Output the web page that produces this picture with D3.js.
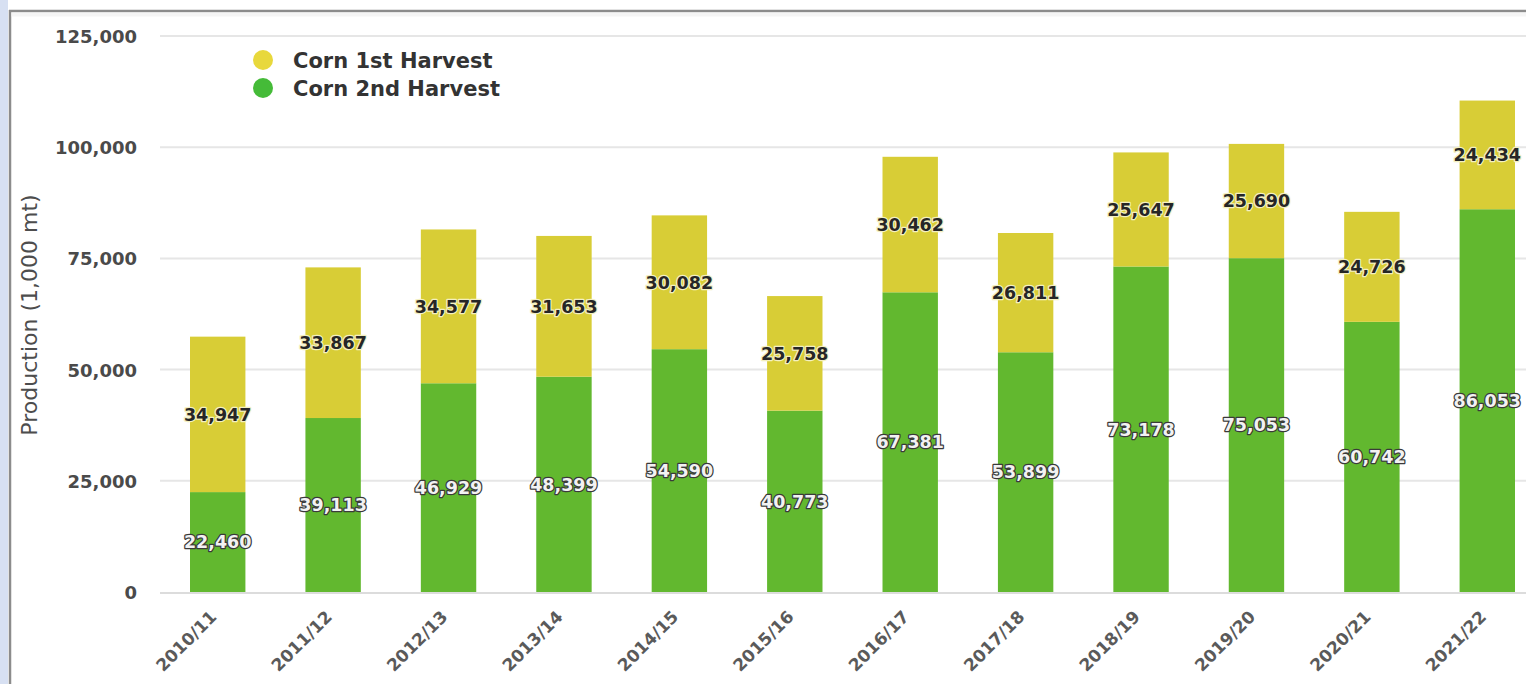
<!DOCTYPE html>
<html>
<head>
<meta charset="utf-8">
<script src="https://cdn.jsdelivr.net/npm/d3@7"></script>
<style>
  html, body { margin: 0; padding: 0; background: #fff; }
  svg { display: block; font-family: "DejaVu Sans", Verdana, sans-serif; }
</style>
</head>
<body>
<svg id="chart" width="1526" height="684"></svg>
<script>
// Marketing years
const seasons = ["2010/11", "2011/12", "2012/13", "2013/14", "2014/15", "2015/16",
                 "2016/17", "2017/18", "2018/19", "2019/20", "2020/21", "2021/22"];
// Production, 1,000 mt
const secondHarvest = [22460, 39113, 46929, 48399, 54590, 40773, 67381, 53899, 73178, 75053, 60742, 86053];
const firstHarvest  = [34947, 33867, 34577, 31653, 30082, 25758, 30462, 26811, 25647, 25690, 24726, 24434];
const yTicks = [0, 25000, 50000, 75000, 100000, 125000];
const seriesNames = ["Corn 1st Harvest", "Corn 2nd Harvest"];

const W = 1526, H = 684;
const svg = d3.select("#chart");

// window frame around the chart panel
svg.append("rect").attr("x", 0).attr("y", 0).attr("width", 8).attr("height", H).attr("fill", "#d7e0f2");
svg.append("rect").attr("x", 8).attr("y", 10).attr("width", W - 8).attr("height", H - 10).attr("fill", "#fff");
svg.append("line").attr("x1", 10).attr("x2", 10).attr("y1", 10).attr("y2", H)
  .attr("stroke", "#8c8c8c").attr("stroke-width", 2.5);
svg.append("line").attr("x1", 9).attr("x2", W).attr("y1", 11).attr("y2", 11)
  .attr("stroke", "#8c8c8c").attr("stroke-width", 2.5);
svg.append("rect").attr("x", 11).attr("y", 12.5).attr("width", W).attr("height", 4)
  .attr("fill", "#eeeeee").attr("opacity", 0.6);

const x = d3.scaleBand().domain(seasons).range([160, 1545]).paddingInner(0.52).paddingOuter(0.26);
const y = d3.scaleLinear().domain([0, 125000]).range([592, 36]);
const fmt = d3.format(",");

// grid
svg.append("g").selectAll("line").data(yTicks.filter(d => d > 0)).join("line")
  .attr("x1", 160).attr("x2", W).attr("y1", d => y(d)).attr("y2", d => y(d))
  .attr("stroke", "#e6e6e6").attr("stroke-width", 2);

// y axis labels
const yAxis = svg.append("g").attr("transform", "translate(137,0)")
  .call(d3.axisLeft(y).tickValues(yTicks).tickFormat(fmt).tickSize(0).tickPadding(0));
yAxis.select(".domain").remove();
yAxis.selectAll("text").attr("font-family", "DejaVu Sans").attr("font-size", 18).attr("font-weight", 700)
  .attr("fill", "#4a4a4a").attr("dy", "0.36em");

// baseline
svg.append("line").attr("x1", 160).attr("x2", W).attr("y1", y(0) + 1).attr("y2", y(0) + 1)
  .attr("stroke", "#dcdcdc").attr("stroke-width", 2);

// y axis title
svg.append("text").attr("transform", "translate(37,315) rotate(-90)")
  .attr("text-anchor", "middle").attr("font-size", 22)
  .attr("fill", "#4d4d4d").text("Production (1,000 mt)");

// stacked bars
const rows = seasons.map((s, i) => ({ season: s, second: secondHarvest[i], first: firstHarvest[i] }));
const stack = d3.stack().keys(["second", "first"])(rows);
const fills = { second: "#62b82f", first: "#d8cd36" };

const layers = svg.append("g").selectAll("g").data(stack).join("g").attr("fill", d => fills[d.key]);
layers.selectAll("rect").data(d => d).join("rect")
  .attr("x", d => x(d.data.season))
  .attr("width", x.bandwidth())
  .attr("y", d => y(d[1]))
  .attr("height", d => y(d[0]) - y(d[1]));

// value labels, centred in each segment
stack.forEach(layer => {
  const onGreen = layer.key === "second";
  svg.append("g").selectAll("text").data(layer).join("text")
    .attr("x", d => x(d.data.season) + x.bandwidth() / 2)
    .attr("y", d => (y(d[0]) + y(d[1])) / 2)
    .attr("dy", "0.36em")
    .attr("text-anchor", "middle")
    .attr("font-size", 17.5).attr("font-weight", 700)
    .attr("paint-order", "stroke")
    .attr("stroke", onGreen ? "#3a3a3a" : "#f4f0c0")
    .attr("stroke-width", 2.5)
    .attr("stroke-linejoin", "round")
    .attr("fill", onGreen ? "#f2f2f2" : "#262626")
    .text(d => fmt(d.data[layer.key]));
});

// x axis labels
svg.append("g").selectAll("text").data(seasons).join("text")
  .attr("transform", d => `translate(${x(d) + x.bandwidth() / 2},${618}) rotate(-45)`)
  .attr("text-anchor", "end")
  .attr("font-size", 17).attr("font-weight", 700).attr("fill", "#5a5a5a")
  .text(d => d);

// legend
const legend = svg.append("g").attr("transform", "translate(263,60)");
const legendColors = ["#e8d83c", "#45bb38"];
seriesNames.forEach((name, i) => {
  const g = legend.append("g").attr("transform", `translate(0,${i * 28})`);
  g.append("circle").attr("r", 10).attr("fill", legendColors[i]);
  g.append("text").attr("x", 30).attr("dy", "0.36em")
    .attr("font-size", 21).attr("font-weight", 700).attr("fill", "#333").text(name);
});
</script>
</body>
</html>
